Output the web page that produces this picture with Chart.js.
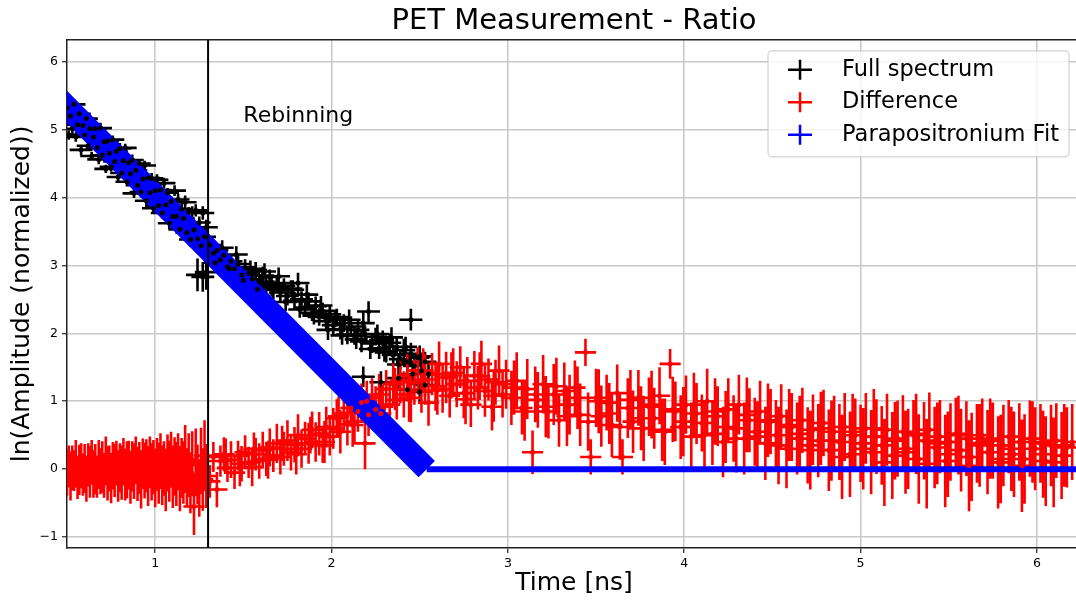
<!DOCTYPE html>
<html>
<head>
<meta charset="utf-8">
<title>PET Measurement - Ratio</title>
<script src="https://cdn.jsdelivr.net/npm/chart.js@4.4.1/dist/chart.umd.min.js"></script>
<style>
  html, body { margin: 0; padding: 0; background: #fff; overflow: hidden; }
  #wrap { width: 1085px; height: 601px; }
</style>
</head>
<body>
<div id="wrap"><canvas id="chart"></canvas></div>
<script>
// Full spectrum (black) - time [ns], ln amplitude, vertical error
const fullTime = [
  0.50,0.51,0.52,0.53,0.54,0.55,0.56,0.57,0.58,0.59,
  0.60,0.61,0.62,0.63,0.64,0.65,0.66,0.67,0.68,0.69,
  0.70,0.71,0.72,0.73,0.74,0.75,0.76,0.77,0.78,0.79,
  0.80,0.81,0.82,0.83,0.84,0.85,0.86,0.87,0.88,0.89,
  0.90,0.91,0.92,0.93,0.94,0.95,0.96,0.97,0.98,0.99,
  1.00,1.01,1.02,1.03,1.04,1.05,1.06,1.07,1.08,1.09,
  1.10,1.11,1.12,1.13,1.14,1.15,1.16,1.17,1.18,1.19,
  1.20,1.21,1.22,1.23,1.24,1.25,1.26,1.27,1.28,1.29,
  1.24,1.27,1.29,
  1.31,1.33,1.35,1.37,1.39,1.41,1.43,1.45,1.47,1.49,
  1.51,1.53,1.55,1.57,1.59,1.61,1.63,1.65,1.67,1.69,
  1.71,1.73,1.75,1.77,1.79,1.81,1.83,1.85,1.87,1.89,
  1.91,1.93,1.95,1.97,1.99,2.01,2.03,2.05,2.07,2.09,
  2.11,2.13,2.15,2.17,2.19,2.21,2.23,2.25,2.27,2.29,
  2.31,2.33,2.35,2.37,2.39,2.41,2.43,2.45,2.47,2.49,
  2.51,2.53,2.55,
  2.18,2.28,2.38,2.43,2.45,2.50,2.53,
  1.34,1.38,1.42,1.46,1.50,1.54,1.58,1.62,1.66,1.70,
  1.74,1.78,1.82,1.86,1.90,1.94,1.98,2.02,2.06,2.10,
  2.14,2.18,2.22,2.26,2.30,2.34,2.38,2.42,2.46,2.50
];
const fullAmp = [
  5.32,4.92,5.20,5.01,5.37,4.89,5.07,5.23,4.70,5.06,
  4.92,5.16,4.76,5.01,4.61,4.89,5.01,4.73,4.56,5.02,
  4.62,4.82,4.42,4.83,4.65,4.45,4.85,4.53,4.68,4.30,
  4.72,4.36,4.54,4.73,4.23,4.51,4.35,4.55,4.06,4.40,
  4.18,4.50,4.08,4.27,4.47,3.95,4.29,4.07,4.28,3.84,
  4.10,4.26,3.88,4.11,3.77,4.21,3.89,4.07,3.62,3.94,
  3.72,4.10,3.72,3.97,3.53,3.83,3.69,3.93,3.48,3.78,
  3.38,3.78,3.52,3.81,3.39,3.63,3.29,3.77,3.42,3.56,
  2.86,2.83,2.90,
  3.30,3.18,3.22,3.08,3.15,2.98,3.06,2.95,3.02,2.86,
  2.97,2.88,2.80,2.93,2.76,2.85,2.72,2.83,2.64,2.74,
  2.60,2.70,2.55,2.66,2.48,2.74,2.50,2.38,2.47,2.30,
  2.40,2.24,2.33,2.18,2.28,2.12,2.24,2.06,2.15,1.98,
  2.10,1.96,2.05,1.88,1.99,2.32,1.85,1.95,1.78,1.90,
  1.72,1.86,1.68,1.80,1.62,1.75,1.58,1.70,1.52,1.64,
  1.45,1.58,1.40,
  1.36,1.28,1.34,1.17,2.20,1.14,1.24,
  3.04,3.26,2.95,3.16,2.78,2.95,2.65,2.91,2.68,2.84,
  2.46,2.64,2.35,2.57,2.26,2.41,2.05,2.22,1.97,2.20,
  1.91,2.15,1.77,1.99,1.74,1.94,1.54,1.80,1.40,1.66
];
const fullAmpErr = [
  0.06,0.07,0.06,0.08,0.06,0.07,0.07,0.06,0.08,0.07,
  0.07,0.06,0.08,0.07,0.06,0.08,0.07,0.06,0.07,0.08,
  0.07,0.08,0.06,0.07,0.08,0.07,0.06,0.08,0.07,0.07,
  0.08,0.07,0.08,0.06,0.07,0.08,0.07,0.08,0.07,0.06,
  0.08,0.07,0.08,0.08,0.07,0.09,0.07,0.08,0.08,0.07,
  0.09,0.08,0.07,0.09,0.08,0.08,0.09,0.07,0.09,0.08,
  0.09,0.08,0.10,0.08,0.09,0.09,0.08,0.10,0.09,0.08,
  0.10,0.09,0.10,0.09,0.11,0.09,0.10,0.10,0.09,0.11,
  0.24,0.22,0.26,
  0.10,0.12,0.11,0.13,0.10,0.12,0.11,0.13,0.12,0.10,
  0.12,0.11,0.13,0.12,0.10,0.13,0.12,0.11,0.14,0.12,
  0.13,0.11,0.14,0.12,0.13,0.15,0.12,0.14,0.13,0.12,
  0.14,0.13,0.12,0.15,0.13,0.14,0.12,0.15,0.13,0.14,
  0.15,0.13,0.14,0.16,0.13,0.15,0.14,0.13,0.16,0.14,
  0.15,0.14,0.16,0.13,0.15,0.17,0.14,0.16,0.15,0.14,
  0.17,0.15,0.16,
  0.15,0.16,0.15,0.17,0.16,0.17,0.16,
  0.12,0.11,0.13,0.12,0.14,0.12,0.13,0.12,0.14,0.13,
  0.13,0.14,0.12,0.15,0.13,0.14,0.15,0.13,0.14,0.15,
  0.14,0.16,0.15,0.14,0.16,0.15,0.17,0.15,0.16,0.16
];
const fullTimeErr = 0.065;

// Difference (red)
const diffTime = [
  0.50,0.51,0.52,0.53,0.54,0.55,0.56,0.57,0.58,0.59,
  0.60,0.61,0.62,0.63,0.64,0.65,0.66,0.67,0.68,0.69,
  0.70,0.71,0.72,0.73,0.74,0.75,0.76,0.77,0.78,0.79,
  0.80,0.81,0.82,0.83,0.84,0.85,0.86,0.87,0.88,0.89,
  0.90,0.91,0.92,0.93,0.94,0.95,0.96,0.97,0.98,0.99,
  1.00,1.01,1.02,1.03,1.04,1.05,1.06,1.07,1.08,1.09,
  1.10,1.11,1.12,1.13,1.14,1.15,1.16,1.17,1.18,1.19,
  1.20,1.21,1.22,1.23,1.24,1.25,1.26,1.27,1.28,1.29,
  1.31,1.33,1.35,1.37,1.39,1.41,1.43,1.45,1.47,1.49,
  1.51,1.53,1.55,1.57,1.59,1.61,1.63,1.65,1.67,1.69,
  1.71,1.73,1.75,1.77,1.79,1.81,1.83,1.85,1.87,1.89,
  1.91,1.93,1.95,1.97,1.99,2.01,2.03,2.05,2.07,2.09,
  2.11,2.13,2.15,2.17,2.19,2.21,2.23,2.25,2.27,2.29,
  2.31,2.33,2.35,2.37,2.39,2.41,2.43,2.45,2.47,2.49,
  2.51,2.53,2.55,2.57,2.59,2.61,2.63,2.65,2.67,2.69,
  2.71,2.73,2.75,2.77,2.79,2.81,2.83,2.85,2.87,2.89,
  2.91,2.93,2.95,2.97,2.99,
  3.02,3.05,3.08,3.11,3.14,3.17,3.20,3.23,3.26,3.29,
  3.32,3.35,3.38,3.41,3.44,3.47,3.50,3.53,3.56,3.59,
  3.62,3.65,3.68,3.71,3.74,3.77,3.80,3.83,3.86,3.89,
  3.92,3.95,3.98,4.01,4.04,4.07,4.10,4.13,4.16,4.19,
  4.22,4.25,4.28,4.31,4.34,4.37,4.40,4.43,4.46,4.49,
  4.52,4.55,4.58,4.61,4.64,4.67,4.70,4.73,4.76,4.79,
  4.82,4.85,4.88,4.91,4.94,4.97,5.00,5.03,5.06,5.09,
  5.12,5.15,5.18,5.21,5.24,5.27,5.30,5.33,5.36,5.39,
  5.42,5.45,5.48,5.51,5.54,5.57,5.60,5.63,5.66,5.69,
  5.72,5.75,5.78,5.81,5.84,5.87,5.90,5.93,5.96,5.99,
  6.02,6.05,6.08,6.11,6.14,6.17,6.20,
  1.40,1.48,1.56,1.64,1.72,1.80,1.88,1.96,2.04,2.12,
  2.20,2.28,2.36,2.44,2.52,2.60,2.68,2.76,2.84,2.92,
  3.035,3.095,3.155,3.215,3.275,3.335,3.395,3.455,3.515,3.575,
  3.635,3.695,3.755,3.815,3.875,3.935,3.995,4.055,4.115,4.175,
  4.235,4.295,4.355,4.415,4.475,4.535,4.595,4.655,4.715,4.775,
  4.835,4.895,4.955,5.015,5.075,5.135,5.195,5.255,5.315,5.375,
  5.435,5.495,5.555,5.615,5.675,5.735,5.795,5.855,5.915,5.975,
  6.035,6.095,6.155
];
const diffAmp = [
  -0.05,0.04,-0.10,0.02,-0.02,0.08,-0.12,-0.01,0.05,-0.08,
  0.01,-0.14,0.06,-0.04,0.10,-0.07,0.00,-0.11,0.07,-0.03,
  0.03,-0.09,0.12,-0.06,0.01,-0.13,0.05,-0.02,0.09,-0.10,
  0.02,-0.05,0.11,-0.08,-0.01,0.06,-0.12,0.04,-0.03,0.13,
  -0.07,0.02,-0.15,0.08,-0.02,0.05,-0.10,0.10,-0.04,0.03,
  -0.13,0.07,-0.06,0.12,-0.09,0.01,-0.16,0.09,-0.03,0.14,
  -0.11,0.04,-0.07,0.11,-0.14,0.02,-0.05,0.15,-0.12,0.06,
  -0.20,0.08,-0.55,0.10,-0.08,-0.30,0.12,-0.15,0.20,-0.10,
  -0.18,0.18,-0.30,0.12,0.22,0.02,0.14,-0.05,0.20,0.08,
  0.25,0.10,0.03,0.22,0.12,0.28,0.15,0.32,0.20,0.38,
  0.18,0.30,0.42,0.25,0.36,0.50,0.30,0.45,0.38,0.58,
  0.40,0.52,0.35,0.62,0.48,0.60,0.75,0.55,0.82,0.66,
  0.90,0.70,0.85,0.98,0.38,0.80,1.05,0.88,1.10,0.92,
  1.18,0.95,1.25,1.02,1.30,1.10,1.38,1.05,1.28,1.45,
  1.15,1.32,0.98,1.40,1.22,1.55,1.18,1.35,1.08,1.42,
  1.25,1.50,1.12,1.30,0.95,1.38,1.20,1.55,1.15,1.32,
  0.92,1.28,1.45,1.10,1.25,
  1.05,1.30,0.90,1.18,0.25,1.02,1.25,0.85,1.10,0.72,
  1.15,0.95,1.20,0.80,1.72,0.18,1.05,0.78,0.98,0.65,
  1.12,0.18,0.90,0.70,1.05,0.60,0.92,0.75,1.08,0.55,
  1.55,0.85,0.62,0.95,0.48,0.82,0.68,1.00,0.52,0.78,
  0.40,0.88,0.60,0.95,0.45,0.72,0.55,0.85,0.38,0.70,
  0.50,0.78,0.30,0.62,0.45,0.72,0.35,0.58,0.42,0.68,
  0.28,0.55,0.40,0.62,0.22,0.50,0.38,0.60,0.25,0.48,
  0.35,0.58,0.20,0.45,0.55,0.30,0.50,0.15,0.42,0.58,
  0.32,0.48,0.12,0.40,0.52,0.28,0.45,0.18,0.38,0.50,
  0.25,0.42,0.10,0.35,0.48,0.22,0.40,0.15,0.45,0.30,
  0.38,0.12,0.35,0.42,0.20,0.32,0.40,
  0.20,0.02,0.30,0.14,0.38,0.22,0.50,0.40,0.78,0.65,
  1.00,0.82,1.18,1.05,1.45,1.16,1.38,1.03,1.37,1.08,
  1.20,0.85,1.10,0.92,1.22,0.78,1.05,0.70,1.00,0.82,
  0.62,1.02,0.75,0.95,0.58,0.88,0.70,0.95,0.50,0.85,
  0.62,0.45,0.80,0.48,0.72,0.35,0.65,0.52,0.28,0.60,
  0.42,0.18,0.55,0.30,0.60,0.10,0.42,0.25,0.52,0.08,
  0.38,0.22,0.50,0.05,0.35,0.45,0.15,0.30,0.05,0.40,
  0.22,0.10,0.35
];
const diffAmpErr = [
  0.34,0.31,0.36,0.33,0.30,0.35,0.32,0.37,0.33,0.31,
  0.36,0.34,0.32,0.38,0.33,0.35,0.37,0.31,0.36,0.34,
  0.38,0.33,0.36,0.40,0.34,0.37,0.35,0.39,0.33,0.38,
  0.36,0.40,0.35,0.38,0.42,0.36,0.39,0.37,0.41,0.35,
  0.40,0.38,0.43,0.37,0.41,0.39,0.44,0.38,0.42,0.40,
  0.43,0.39,0.45,0.41,0.44,0.40,0.46,0.42,0.45,0.41,
  0.46,0.43,0.47,0.42,0.48,0.44,0.46,0.50,0.43,0.47,
  0.45,0.48,0.42,0.50,0.44,0.40,0.49,0.46,0.52,0.47,
  0.24,0.22,0.26,0.23,0.25,0.21,0.27,0.24,0.22,0.26,
  0.25,0.23,0.28,0.24,0.26,0.27,0.25,0.28,0.24,0.29,
  0.26,0.25,0.30,0.27,0.26,0.31,0.28,0.25,0.30,0.27,
  0.29,0.32,0.26,0.30,0.28,0.30,0.28,0.32,0.29,0.31,
  0.27,0.33,0.30,0.28,0.38,0.31,0.29,0.34,0.30,0.32,
  0.28,0.35,0.31,0.29,0.33,0.34,0.31,0.36,0.33,0.35,
  0.32,0.37,0.34,0.31,0.36,0.33,0.35,0.38,0.32,0.36,
  0.34,0.31,0.37,0.35,0.33,0.36,0.32,0.34,0.38,0.31,
  0.35,0.33,0.37,0.34,0.36,
  0.40,0.42,0.39,0.44,0.32,0.41,0.43,0.40,0.45,0.39,
  0.42,0.44,0.40,0.46,0.20,0.26,0.43,0.45,0.41,0.47,
  0.42,0.26,0.44,0.46,0.41,0.48,0.43,0.45,0.42,0.49,
  0.22,0.44,0.47,0.43,0.50,0.45,0.42,0.48,0.46,0.44,
  0.52,0.46,0.49,0.44,0.53,0.47,0.50,0.45,0.54,0.48,
  0.52,0.47,0.58,0.50,0.53,0.48,0.56,0.52,0.54,0.49,
  0.60,0.53,0.56,0.50,0.63,0.54,0.57,0.52,0.62,0.55,
  0.58,0.53,0.64,0.56,0.54,0.59,0.52,0.66,0.57,0.55,
  0.60,0.54,0.68,0.57,0.53,0.61,0.55,0.65,0.58,0.54,
  0.62,0.56,0.68,0.60,0.54,0.63,0.57,0.66,0.56,0.61,
  0.58,0.66,0.60,0.55,0.64,0.59,0.56,
  0.25,0.27,0.24,0.28,0.26,0.30,0.27,0.31,0.29,0.32,
  0.30,0.33,0.31,0.35,0.33,0.36,0.34,0.37,0.35,0.38,
  0.40,0.43,0.41,0.45,0.42,0.44,0.46,0.43,0.47,0.45,
  0.48,0.44,0.47,0.50,0.46,0.48,0.51,0.47,0.52,0.49,
  0.53,0.50,0.55,0.52,0.54,0.57,0.53,0.56,0.58,0.54,
  0.59,0.62,0.56,0.60,0.58,0.64,0.57,0.61,0.59,0.66,
  0.60,0.63,0.58,0.67,0.61,0.59,0.65,0.62,0.68,0.60,
  0.64,0.66,0.61
];
const diffTimeErr = 0.06;

// Parapositronium fit (blue): straight decay then flat at zero
const fitTime = [0.40, 2.54, 6.30];
const fitAmp = [5.59, 0.00, 0.00];

// Rebinning boundary
const rebinTime = 1.3;
const rebinLabel = 'Rebinning';
const rebinLabelPos = [1.5, 5.19];

const FONT = 'DejaVu Sans';
Chart.defaults.font.family = FONT;
Chart.defaults.color = '#000';

const toPoints = (xs, ys) => xs.map((x, i) => ({ x: x, y: ys[i] }));
const minusSign = v => String(v).replace('-', '\u2212');

// error bars drawn under all markers, black first then red
const errorBars = {
  id: 'errorBars',
  beforeDatasetsDraw(chart) {
    const { ctx, chartArea: a, scales: { x, y } } = chart;
    ctx.save();
    ctx.beginPath();
    ctx.rect(a.left, a.top, a.right - a.left, a.bottom - a.top);
    ctx.clip();
    chart.data.datasets.forEach(ds => {
      if (!ds.yErr) return;
      ctx.strokeStyle = ds.borderColor;
      ctx.lineWidth = 2.6;
      ctx.beginPath();
      ds.data.forEach((p, i) => {
        const px = x.getPixelForValue(p.x);
        const py = y.getPixelForValue(p.y);
        ctx.moveTo(x.getPixelForValue(p.x - ds.xErr), py);
        ctx.lineTo(x.getPixelForValue(p.x + ds.xErr), py);
        ctx.moveTo(px, y.getPixelForValue(p.y - ds.yErr[i]));
        ctx.lineTo(px, y.getPixelForValue(p.y + ds.yErr[i]));
      });
      ctx.stroke();
    });
    ctx.restore();
  },
  afterDatasetsDraw(chart) {
    const { ctx, chartArea: a, scales: { x, y } } = chart;
    ctx.save();
    // top spine
    ctx.strokeStyle = '#222';
    ctx.lineWidth = 1.5;
    ctx.beginPath();
    ctx.moveTo(a.left, a.top);
    ctx.lineTo(a.right, a.top);
    ctx.stroke();
    // rebinning label
    ctx.fillStyle = '#000';
    ctx.font = '22px "' + FONT + '"';
    ctx.textBaseline = 'middle';
    ctx.textAlign = 'left';
    ctx.fillText(rebinLabel, x.getPixelForValue(rebinLabelPos[0]), y.getPixelForValue(rebinLabelPos[1]));
    ctx.restore();
  }
};

// matplotlib-like legend box in the upper right
const boxLegend = {
  id: 'boxLegend',
  afterDraw(chart) {
    const { ctx, chartArea: a } = chart;
    const items = chart.data.datasets.filter(ds => ds.inLegend);
    ctx.save();
    ctx.font = '22.5px "' + FONT + '"';
    const textW = Math.max(...items.map(ds => ctx.measureText(ds.label).width));
    const w = 74 + textW + 10, h = 106;
    const left = a.right - 12 - w, top = a.top + 11;
    ctx.beginPath();
    if (ctx.roundRect) ctx.roundRect(left, top, w, h, 4); else ctx.rect(left, top, w, h);
    ctx.fillStyle = 'rgba(255,255,255,0.8)';
    ctx.fill();
    ctx.strokeStyle = 'rgba(204,204,204,0.9)';
    ctx.lineWidth = 1.2;
    ctx.stroke();
    items.forEach((ds, i) => {
      const cy = top + 19 + i * 32.5;
      const cx = left + 32;
      ctx.strokeStyle = ds.borderColor;
      ctx.lineWidth = 2.5;
      ctx.beginPath();
      ctx.moveTo(cx - 12, cy); ctx.lineTo(cx + 12, cy);
      ctx.moveTo(cx, cy - 10); ctx.lineTo(cx, cy + 10);
      ctx.stroke();
      ctx.fillStyle = '#000';
      ctx.textBaseline = 'middle';
      ctx.fillText(ds.label, left + 74, cy);
    });
    ctx.restore();
  }
};

const fitWidths = [23, 6];

new Chart(document.getElementById('chart'), {
  type: 'scatter',
  data: {
    datasets: [
      {
        label: 'Full spectrum',
        data: toPoints(fullTime, fullAmp),
        xErr: fullTimeErr, yErr: fullAmpErr,
        borderColor: '#000000', backgroundColor: '#000000',
        pointRadius: 2.5, pointBorderWidth: 0, order: 1, inLegend: true
      },
      {
        label: 'Difference',
        data: toPoints(diffTime, diffAmp),
        xErr: diffTimeErr, yErr: diffAmpErr,
        borderColor: '#ff0000', backgroundColor: '#ff0000',
        pointRadius: 2.5, pointBorderWidth: 0, order: 2, inLegend: true
      },
      {
        label: 'Parapositronium Fit',
        data: toPoints(fitTime, fitAmp),
        showLine: true, borderColor: '#0000ff', backgroundColor: '#0000ff',
        borderWidth: 6, borderCapStyle: 'butt',
        segment: { borderWidth: c => fitWidths[c.p0DataIndex] },
        pointRadius: 0, order: 3, inLegend: true
      },
      {
        label: 'Rebinning line',
        data: [{ x: rebinTime, y: -5 }, { x: rebinTime, y: 10 }],
        showLine: true, borderColor: '#000000', borderWidth: 2,
        pointRadius: 0, order: 0
      }
    ]
  },
  options: {
    responsive: true,
    maintainAspectRatio: false,
    animation: false,
    layout: { padding: 0 },
    plugins: {
      legend: { display: false },
      tooltip: { enabled: false },
      title: {
        display: true,
        text: 'PET Measurement - Ratio',
        fullSize: false,
        color: '#000',
        font: { family: FONT, size: 29, weight: 'normal' },
        padding: { top: 4, bottom: 1 }
      }
    },
    scales: {
      x: {
        type: 'linear',
        min: 0.5, max: 6.25,
        afterFit: s => { s.height = 53; },
        ticks: { stepSize: 1, includeBounds: false, maxRotation: 0, padding: 3,
                 font: { size: 12.5 }, color: '#000', callback: minusSign },
        grid: { color: '#c8c8c8', lineWidth: 1.5, tickColor: '#222', tickLength: 5, tickWidth: 1.2 },
        border: { color: '#222', width: 1.5 },
        title: { display: true, text: 'Time [ns]', color: '#000',
                 font: { size: 25 }, padding: { top: 0, bottom: 3 } }
      },
      y: {
        type: 'linear',
        min: -1.16, max: 6.32,
        afterFit: s => { s.width = 67; },
        ticks: { stepSize: 1, includeBounds: false, padding: 4,
                 font: { size: 12.5 }, color: '#000', callback: minusSign },
        grid: { color: '#c8c8c8', lineWidth: 1.5, tickColor: '#222', tickLength: 5, tickWidth: 1.2 },
        border: { color: '#222', width: 1.5 },
        title: { display: true, text: 'ln(Amplitude (normalized))', color: '#000',
                 font: { size: 25 }, padding: { top: 7, bottom: 0 } }
      }
    }
  },
  plugins: [errorBars, boxLegend]
});
</script>
</body>
</html>
